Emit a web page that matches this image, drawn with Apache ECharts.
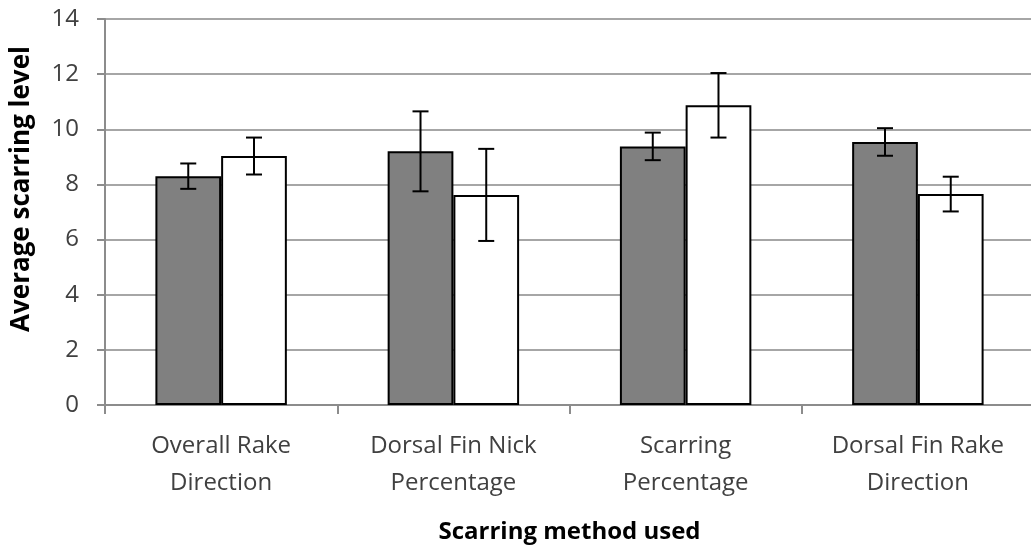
<!DOCTYPE html>
<html>
<head>
<meta charset="utf-8">
<script src="https://cdn.jsdelivr.net/npm/echarts@6/dist/echarts.min.js"></script>
<style>html,body{margin:0;padding:0;background:#fff}#c{width:1031px;height:546px}</style>
</head>
<body>
<div id="c"></div>
<script>
var categories = ['Overall Rake\nDirection', 'Dorsal Fin Nick\nPercentage', 'Scarring\nPercentage', 'Dorsal Fin Rake\nDirection'];
var greyValues = [8.3, 9.2, 9.38, 9.54];
var greyErr = [0.46, 1.45, 0.5, 0.5];
var whiteValues = [9.03, 7.62, 10.87, 7.65];
var whiteErr = [0.67, 1.67, 1.17, 0.63];
var yTicks = [0, 2, 4, 6, 8, 10, 12, 14];

var BAR_FRAC = 0.283;
var FONT = 'Open Sans';

function errRenderer(side) {
  return function (params, api) {
    var i = api.value(0), v = api.value(1), e = api.value(2);
    var band = api.size([1, 0])[0];
    var dx = side * band * BAR_FRAC / 2;
    var hi = api.coord([i, v + e]);
    var lo = api.coord([i, v - e]);
    var x = hi[0] + dx;
    var cap = 8;
    var st = {stroke: '#000', lineWidth: 2};
    return {type: 'group', children: [
      {type: 'line', shape: {x1: x, y1: hi[1], x2: x, y2: lo[1]}, style: st},
      {type: 'line', shape: {x1: x - cap, y1: hi[1], x2: x + cap, y2: hi[1]}, style: st},
      {type: 'line', shape: {x1: x - cap, y1: lo[1], x2: x + cap, y2: lo[1]}, style: st}
    ]};
  };
}

var chart = echarts.init(document.getElementById('c'), null, {renderer: 'canvas'});
chart.setOption({
  backgroundColor: '#fff',
  animation: false,
  grid: {left: 105, top: 19, width: 929, height: 386, containLabel: false, outerBoundsMode: 'none'},
  xAxis: {
    type: 'category',
    data: categories,
    axisLine: {lineStyle: {color: '#8c8c8c', width: 2}},
    axisTick: {show: true, length: 9, lineStyle: {color: '#8c8c8c', width: 2}},
    axisLabel: {interval: 0, margin: 23, color: '#404040', fontFamily: FONT, fontSize: 24, lineHeight: 37},
    name: 'Scarring method used',
    nameLocation: 'middle',
    nameGap: 115,
    nameTextStyle: {color: '#000', fontFamily: FONT, fontSize: 24, fontWeight: 'bold'}
  },
  yAxis: {
    type: 'value',
    min: yTicks[0],
    max: yTicks[yTicks.length - 1],
    interval: 2,
    axisLine: {show: true, lineStyle: {color: '#8c8c8c', width: 2}},
    axisTick: {show: true, length: 8, lineStyle: {color: '#8c8c8c', width: 2}},
    splitLine: {lineStyle: {color: '#a6a6a6', width: 2}},
    axisLabel: {margin: 26, color: '#404040', fontFamily: FONT, fontSize: 24},
    name: 'Average scarring level',
    nameLocation: 'middle',
    nameGap: 70,
    nameRotate: 90,
    nameTextStyle: {color: '#000', fontFamily: FONT, fontSize: 26, fontWeight: 'bold', padding: [0, 0, 0, 46]}
  },
  series: [
    {type: 'bar', data: greyValues, barWidth: (BAR_FRAC * 100) + '%', barGap: '0%',
     itemStyle: {color: '#808080', borderColor: '#000', borderWidth: 2}},
    {type: 'bar', data: whiteValues, barWidth: (BAR_FRAC * 100) + '%', barGap: '0%',
     itemStyle: {color: '#ffffff', borderColor: '#000', borderWidth: 2}},
    {type: 'custom', renderItem: errRenderer(-1), encode: {x: 0, y: 1}, z: 10,
     data: greyValues.map(function (v, i) { return [i, v, greyErr[i]]; })},
    {type: 'custom', renderItem: errRenderer(1), encode: {x: 0, y: 1}, z: 10,
     data: whiteValues.map(function (v, i) { return [i, v, whiteErr[i]]; })}
  ]
});
</script>
</body>
</html>
